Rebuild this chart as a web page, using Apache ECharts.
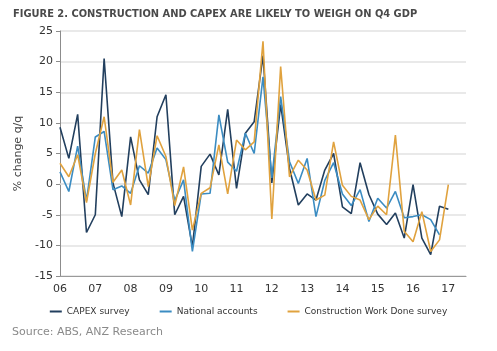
<!DOCTYPE html>
<html>
<head>
<meta charset="utf-8">
<script src="https://cdn.jsdelivr.net/npm/echarts@6/dist/echarts.min.js"></script>
<style>
  html, body { margin: 0; padding: 0; background: #fff; }
  #main { width: 497px; height: 351px; }
</style>
</head>
<body>
<div id="main"></div>
<script>
// quarters, Mar-06 .. Sep-17 (last two only stretch the axis)
var quarters = ['Mar-06','Jun-06','Sep-06','Dec-06','Mar-07','Jun-07','Sep-07','Dec-07',
    'Mar-08','Jun-08','Sep-08','Dec-08','Mar-09','Jun-09','Sep-09','Dec-09',
    'Mar-10','Jun-10','Sep-10','Dec-10','Mar-11','Jun-11','Sep-11','Dec-11',
    'Mar-12','Jun-12','Sep-12','Dec-12','Mar-13','Jun-13','Sep-13','Dec-13',
    'Mar-14','Jun-14','Sep-14','Dec-14','Mar-15','Jun-15','Sep-15','Dec-15',
    'Mar-16','Jun-16','Sep-16','Dec-16','Mar-17','Jun-17','Sep-17'];

var capexSurvey = [9.3, 4.2, 11.4, -7.9, -5.0, 20.5, 0.2, -5.3, 7.7, 0.7, -1.7, 11.0,
    14.6, -5.0, -2.0, -10.2, 2.9, 4.9, 1.5, 12.2, -0.7, 8.3, 10.2, 21.0,
    0.2, 13.0, 2.6, -3.4, -1.6, -2.6, 2.3, 5.0, -3.7, -4.8, 3.5, -1.7,
    -4.9, -6.6, -4.7, -8.8, -0.1, -8.8, -11.5, -3.6, -4.1];

var nationalAccounts = [2.0, -1.2, 6.2, -2.7, 7.7, 8.6, -0.9, -0.3, -1.5, 3.0, 1.8, 5.9,
    4.0, -2.7, 0.7, -11.0, -1.6, -1.5, 11.3, 3.6, 2.1, 8.3, 5.0, 17.5,
    1.0, 14.3, 3.7, 0.1, 4.2, -5.3, 0.6, 3.5, -1.6, -3.5, -0.9, -6.1,
    -2.3, -3.9, -1.2, -5.5, -5.3, -5.0, -5.8, -8.3];

var workDone = [3.4, 1.2, 4.8, -3.0, 5.0, 11.0, 0.3, 2.3, -3.4, 8.9, -0.4, 7.9,
    4.5, -3.5, 2.8, -7.5, -1.5, -0.6, 6.4, -1.6, 7.2, 5.6, 6.9, 23.3,
    -5.7, 19.2, 1.2, 3.9, 2.3, -2.6, -1.8, 6.9, -0.2, -2.0, -2.6, -5.8,
    -3.6, -5.0, 8.0, -7.7, -9.4, -4.5, -11.0, -9.1, -0.1];

var yTicks = { min: -15, max: 25, interval: 5 };

var myChart = echarts.init(document.getElementById('main'));
var font = 'DejaVu Sans';

function lineSeries(name, data, color) {
    return {
        name: name,
        type: 'line',
        data: data,
        symbol: 'none',
        lineStyle: { width: 1.6, color: color },
        itemStyle: { color: color }
    };
}

var option = {
    animation: false,
    textStyle: { fontFamily: font },
    title: {
        text: 'FIGURE 2. CONSTRUCTION AND CAPEX ARE LIKELY TO WEIGH ON Q4 GDP',
        left: 8,
        top: 4,
        textStyle: { fontFamily: font, fontSize: 9.9, fontWeight: 'bold', color: '#4a4a4a' }
    },
    graphic: [{
        type: 'text',
        left: 12,
        top: 327,
        style: { text: 'Source: ABS, ANZ Research', font: '11px ' + font, fill: '#8a8a8a' }
    }],
    legend: {
        top: 302,
        left: 'center',
        icon: 'rect',
        itemWidth: 12,
        itemHeight: 2,
        itemGap: 30,
        textStyle: { fontFamily: font, fontSize: 9, color: '#333' },
        data: ['CAPEX survey', 'National accounts', 'Construction Work Done survey']
    },
    grid: { left: 60, right: 31, top: 31, bottom: 75 },
    xAxis: [{
        type: 'category',
        data: quarters,
        boundaryGap: false,
        axisLine: { show: true, lineStyle: { color: '#e2e2e2', width: 1.5 } },
        axisTick: { show: false },
        axisLabel: {
            interval: 3,
            margin: 8,
            fontSize: 11,
            color: '#333',
            formatter: function (v) { return v.slice(-2); }
        },
        splitLine: { show: false }
    }, {
        // zero line
        type: 'category',
        data: quarters,
        boundaryGap: false,
        position: 'bottom',
        axisLine: { show: true, onZero: true, lineStyle: { color: '#9a9a9a', width: 1.2 } },
        axisTick: { show: false },
        axisLabel: { show: false },
        splitLine: { show: false }
    }],
    yAxis: {
        type: 'value',
        min: yTicks.min,
        max: yTicks.max,
        interval: yTicks.interval,
        name: '% change q/q',
        nameLocation: 'middle',
        nameGap: 29,
        nameTextStyle: { fontFamily: font, fontSize: 11, color: '#444' },
        axisLine: { show: true, lineStyle: { color: '#8c8c8c', width: 1 } },
        axisTick: { show: true, length: 4, lineStyle: { color: '#8c8c8c' } },
        axisLabel: { fontSize: 11, color: '#333', margin: 7 },
        splitLine: { show: true, lineStyle: { color: '#e2e2e2', width: 1.5 } }
    },
    series: [
        lineSeries('CAPEX survey', capexSurvey, '#223f5e'),
        lineSeries('National accounts', nationalAccounts, '#3b8cc2'),
        lineSeries('Construction Work Done survey', workDone, '#e0a23e')
    ]
};
myChart.setOption(option);
</script>
</body>
</html>
